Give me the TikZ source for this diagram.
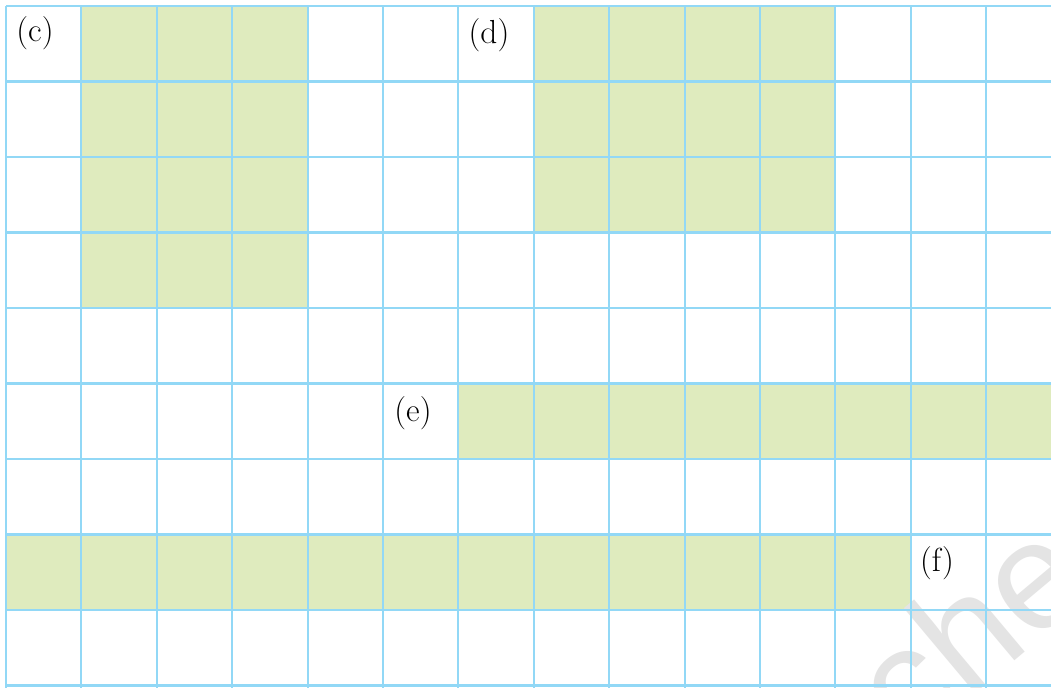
\documentclass[tikz,border=0pt]{standalone}
\usepackage{fontspec}
\newfontfamily\wmfont{Liberation Sans}
\definecolor{gridblue}{RGB}{146,216,246}
\definecolor{cellgreen}{RGB}{223,235,190}
\definecolor{wmgray}{RGB}{228,228,228}
\tikzset{
  gridline/.style={draw=gridblue, line width=1.6pt},
  greencell/.style={fill=cellgreen},
  lbl/.style={inner sep=0pt, font=\fontsize{25}{30}\selectfont},
  watermark/.style={text=wmgray, font=\wmfont\fontsize{115}{120}\selectfont, rotate=40, inner sep=0pt}
}
\begin{document}
\begin{tikzpicture}[x=0.75pt,y=-0.75pt]
\useasboundingbox (0,0) rectangle (1051,688);
\clip (0,0) rectangle (1051,688);
\fill[white] (0,0) rectangle (1051,688);
% green blocks
\fill[greencell] ({6+75.4*1},{6+75.5*0}) rectangle ({6+75.4*4},{6+75.5*4});
\fill[greencell] ({6+75.4*7},{6+75.5*0}) rectangle ({6+75.4*11},{6+75.5*3});
\fill[greencell] ({6+75.4*6},{6+75.5*5}) rectangle (1051,{6+75.5*6});
\fill[greencell] ({6+75.4*0},{6+75.5*7}) rectangle ({6+75.4*12},{6+75.5*8});
% watermark
\node[watermark] (wm) at (968,628) {che};
% grid
\foreach \k in {0,...,13} \draw[gridline] ({6+75.4*\k},6) -- ({6+75.4*\k},690);
\foreach \k in {0,...,9} \draw[gridline] (6,{6+75.5*\k}) -- (1053,{6+75.5*\k});
% labels
\node[lbl] (c) at (35,33) {(c)};
\node[lbl] (d) at (489,35) {(d)};
\node[lbl] (e) at (413,413) {(e)};
\node[lbl] (f) at (937,563) {(f)};
\end{tikzpicture}
\end{document}
